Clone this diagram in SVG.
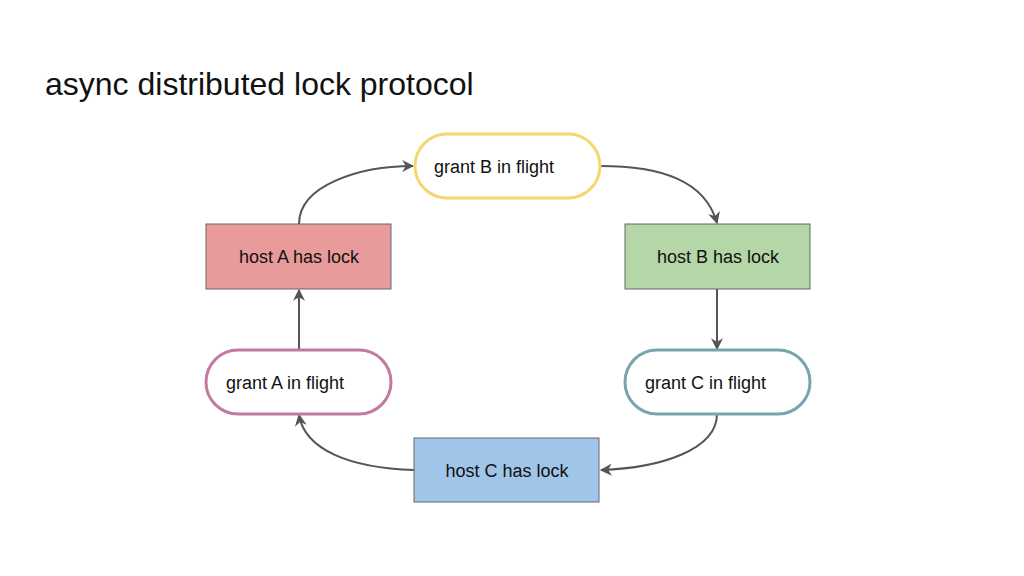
<svg xmlns="http://www.w3.org/2000/svg" width="1024" height="576" viewBox="0 0 1024 576">
<style>
text{font-family:"Liberation Sans",Arial,sans-serif;fill:#111}
.t{font-size:18px}
.box{stroke:#666;stroke-width:1}
.pill{fill:#fff;stroke-width:3}
.e{fill:none;stroke:#555;stroke-width:2;marker-end:url(#a)}
</style>
<defs><marker id="a" viewBox="0 0 10 10" refX="9" refY="5" markerWidth="6" markerHeight="6" orient="auto"><path d="M0,0 L10,5 L0,10 L3,5 z" fill="#555"/></marker></defs>
<rect width="1024" height="576" fill="#fff"/>
<text x="45" y="95" font-size="32">async distributed lock protocol</text>
<g id="connectors">
<path class="e" d="M299,224 C299,185 360,166 413,166"/>
<path class="e" d="M600,166 C660,166 705,180 717,223"/>
<path class="e" d="M717,289 L717,349"/>
<path class="e" d="M717,414 C717,450 660,468 601,470"/>
<path class="e" d="M414,470 C350,468 305,450 299,415"/>
<path class="e" d="M299,350 L299,290"/>
</g>
<g id="grantB"><rect class="pill" x="415" y="134" width="185" height="64" rx="32" stroke="#f5d76e"/><text class="t" x="434" y="173">grant B in flight</text></g>
<g id="hostA"><rect class="box" x="206" y="224" width="185" height="65" fill="#e99a9a"/><text class="t" x="299" y="263" text-anchor="middle">host A has lock</text></g>
<g id="hostB"><rect class="box" x="625" y="224" width="185" height="65" fill="#b5d6a7"/><text class="t" x="718" y="263" text-anchor="middle">host B has lock</text></g>
<g id="grantA"><rect class="pill" x="206" y="350" width="185" height="64" rx="32" stroke="#c27ba0"/><text class="t" x="226" y="389">grant A in flight</text></g>
<g id="grantC"><rect class="pill" x="625" y="350" width="185" height="64" rx="32" stroke="#76a5af"/><text class="t" x="645" y="389">grant C in flight</text></g>
<g id="hostC"><rect class="box" x="414" y="438" width="185" height="64" fill="#9fc5e8"/><text class="t" x="507" y="477" text-anchor="middle">host C has lock</text></g>
</svg>
